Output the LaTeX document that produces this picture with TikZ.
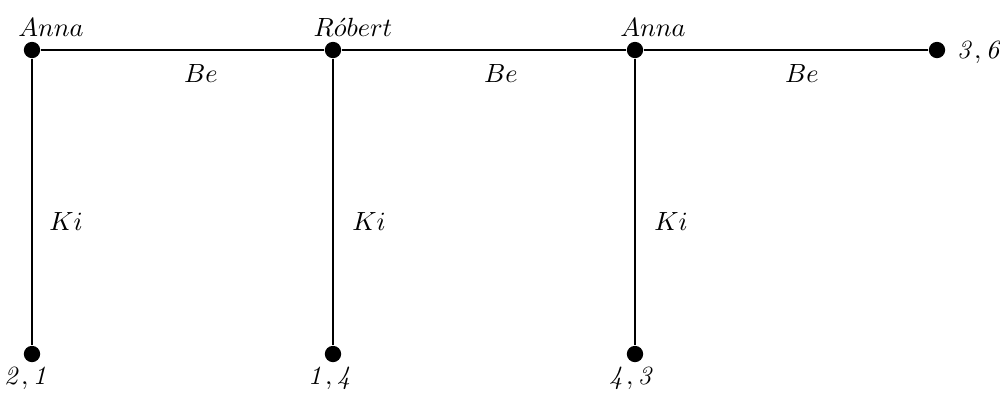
\documentclass[tikz,border=0pt]{standalone}
\begin{document}
\begin{tikzpicture}[x=0.38pt,y=-0.38pt,
  dot/.style={circle,fill=black,inner sep=0pt,minimum size=6.2pt},
  edge/.style={line width=0.4pt},
  lbl/.style={inner sep=0pt,anchor=base}]
\useasboundingbox (0,0) rectangle (1000,392);
\node[dot] (a1) at (32,50) {};
\node[dot] (r) at (333,50) {};
\node[dot] (a2) at (635,50) {};
\node[dot] (e) at (937,50) {};
\node[dot] (b1) at (32,354) {};
\node[dot] (b2) at (333,354) {};
\node[dot] (b3) at (635,354) {};
\draw[edge] (a1) -- (r) -- (a2) -- (e);
\draw[edge] (a1) -- (b1);
\draw[edge] (r) -- (b2);
\draw[edge] (a2) -- (b3);
\node[lbl] (la1) at (51,36) {$Anna$};
\node[lbl] (lr) at (353,36) {$R\acute{o}bert$};
\node[lbl] (la2) at (653,36) {$Anna$};
\node[lbl] (be1) at (201,82) {$Be$};
\node[lbl] (be2) at (501,82) {$Be$};
\node[lbl] (be3) at (802,82) {$Be$};
\node[lbl] (k1) at (66,230) {$Ki$};
\node[lbl] (k2) at (369,230) {$Ki$};
\node[lbl] (k3) at (671,230) {$Ki$};
\node[lbl] (l36) at (980,58) {$\mathit{3,6}$};
\node[lbl] (l21) at (27,384) {$\mathit{2,1}$};
\node[lbl] (l14) at (331,384) {$\mathit{1,4}$};
\node[lbl] (l43) at (632,384) {$\mathit{4,3}$};
\end{tikzpicture}
\end{document}
